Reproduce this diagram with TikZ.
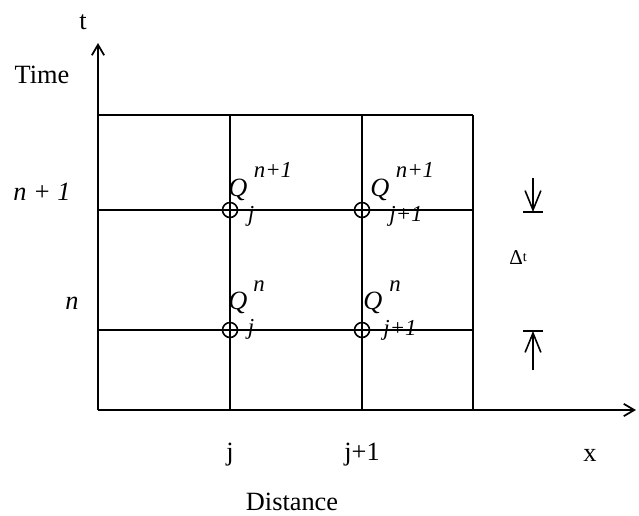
\documentclass[tikz,border=0pt]{standalone}
\usepackage{fontspec}
\setmainfont{Liberation Serif}
\usetikzlibrary{arrows.meta}

\begin{document}
\begin{tikzpicture}[x=0.02cm, y=-0.02cm,
        axis/.style={line width=1pt, -{Straight Barb[length=6pt,width=7pt]}},
        gridline/.style={line width=1pt},
        dimarrow/.style={line width=0.9pt, -{Straight Barb[length=11pt,width=9pt]}},
        txt/.style={font=\fontsize{15}{17}\selectfont, inner sep=0pt},
        itxt/.style={font=\fontsize{15}{17}\selectfont\itshape, inner sep=0pt},
        idx/.style={font=\fontsize{13}{15}\selectfont\itshape, inner sep=0pt},
        gridpt/.style={circle, draw, line width=0.9pt, minimum size=0.3cm, inner sep=0pt}]

        \useasboundingbox (0,0) rectangle (639,515);

        %% ── Axes ───────────────────────────────────────────────────────────
        \coordinate (O) at (98,410);
        \coordinate (tend) at (98,43);
        \coordinate (xend) at (636,410);
        \draw[axis] (O) -- (tend);
        \draw[axis] (O) -- (xend);
        \node[txt] (tlab) at (83,22) {t};
        \node[txt] (timelab) at (42,75) {Time};
        \node[txt] (xlab) at (590,455) {x};
        \node[txt] (distlab) at (292,502) {Distance};

        %% ── Grille de calcul ───────────────────────────────────────────────
        \foreach \y in {115,210,330}
            \draw[gridline] (98,\y) -- (473,\y);
        \foreach \x in {230,362,473}
            \draw[gridline] (\x,115) -- (\x,410);

        \node[txt] (jlab) at (230,455) {j};
        \node[txt] (jplab) at (362,455) {j+1};
        \node[itxt] (nplab) at (42,192) {n + 1};
        \node[itxt] (nlab) at (72,303) {n};

        %% ── Points de la grille ────────────────────────────────────────────
        \node[gridpt] (p11) at (230,210) {};
        \node[gridpt] (p21) at (362,210) {};
        \node[gridpt] (p10) at (230,330) {};
        \node[gridpt] (p20) at (362,330) {};

        \node[itxt] (q11) at (238,190) {Q};
        \node[idx] (q11sup) at (273,170) {n+1};
        \node[idx] (q11sub) at (251,216) {j};

        \node[itxt] (q21) at (380,190) {Q};
        \node[idx] (q21sup) at (415,170) {n+1};
        \node[idx] (q21sub) at (406,216) {j+1};

        \node[itxt] (q10) at (238,303) {Q};
        \node[idx] (q10sup) at (259,286) {n};
        \node[idx] (q10sub) at (251,329) {j};

        \node[itxt] (q20) at (373,303) {Q};
        \node[idx] (q20sup) at (395,286) {n};
        \node[idx] (q20sub) at (400,330) {j+1};

        %% ── Pas de temps ───────────────────────────────────────────────────
        \coordinate (dtop) at (533,178);
        \coordinate (dhi) at (533,212);
        \coordinate (dlo) at (533,331);
        \coordinate (dbot) at (533,370);
        \draw[dimarrow] (dtop) -- (dhi);
        \draw[line width=1pt] ([xshift=-0.2cm]dhi) -- ([xshift=0.2cm]dhi);
        \draw[dimarrow] (dbot) -- (dlo);
        \draw[line width=1pt] ([xshift=-0.2cm]dlo) -- ([xshift=0.2cm]dlo);
        \node[font=\fontsize{12}{14}\selectfont, inner sep=0pt] (dtlab) at (518,258)
            {Δ\raisebox{2pt}{\fontsize{8}{9}\selectfont t}};

    \end{tikzpicture}
\end{document}
